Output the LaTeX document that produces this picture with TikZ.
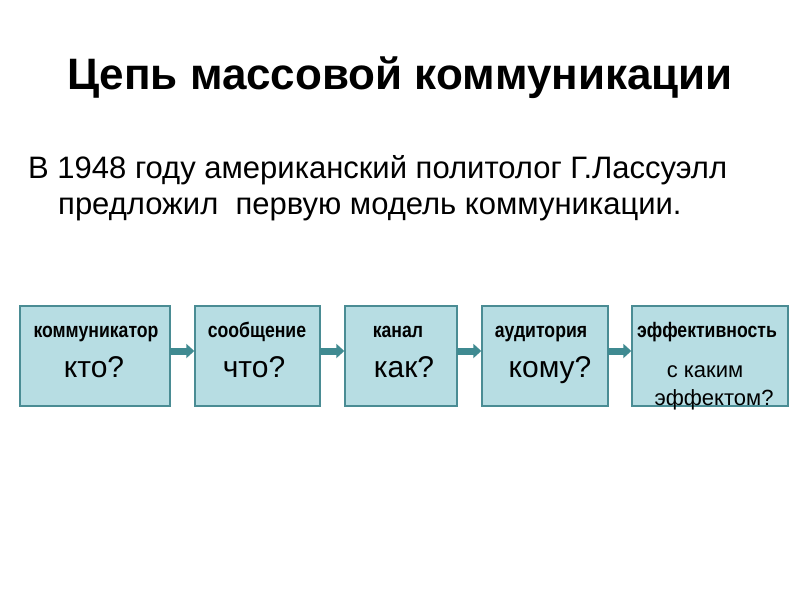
\documentclass[tikz,border=0pt]{standalone}
\usepackage{fontspec}
\setmainfont{Liberation Sans}
\usetikzlibrary{arrows.meta}
\definecolor{boxfill}{HTML}{B7DDE3}
\definecolor{boxline}{HTML}{4A8C94}
\definecolor{arr}{HTML}{3F8A91}
\tikzset{
  stage/.style={draw=boxline, line width=1.5pt, fill=boxfill, inner sep=0pt},
  lbl/.style={font=\fontsize{21}{24}\selectfont\bfseries, inner sep=0pt, xscale=0.84, anchor=base},
  q/.style={font=\fontsize{30}{34}\selectfont, inner sep=0pt, anchor=base},
  small/.style={font=\fontsize{22}{26}\selectfont, inner sep=0pt, anchor=base},
  flow/.style={draw=arr, line width=7pt, -{Triangle[length=8pt,width=14pt]}, shorten >=0.5pt}
}
\begin{document}
\begin{tikzpicture}[x=1pt,y=-1pt]
\useasboundingbox (0,0) rectangle (800,600);
\node[font=\fontsize{44}{50}\selectfont\bfseries, inner sep=0pt] (title) at (400,78) {Цепь массовой коммуникации};
\node[font=\fontsize{31}{36}\selectfont, anchor=base west, inner sep=0pt] (l1) at (28,178) {В 1948 году американский политолог Г.Лассуэлл};
\node[font=\fontsize{31}{36}\selectfont, anchor=base west, inner sep=0pt] (l2) at (58,214) {предложил\ \ первую модель коммуникации.};

\path[stage] (20,306) rectangle (170,406);
\node (b1) at (95,356) [minimum width=150pt, minimum height=100pt, inner sep=0pt] {};
\path[stage] (195,306) rectangle (320,406);
\node (b2) at (257.5,356) [minimum width=125pt, minimum height=100pt, inner sep=0pt] {};
\path[stage] (345,306) rectangle (457,406);
\node (b3) at (401,356) [minimum width=112pt, minimum height=100pt, inner sep=0pt] {};
\path[stage] (482,306) rectangle (608,406);
\node (b4) at (545,356) [minimum width=126pt, minimum height=100pt, inner sep=0pt] {};
\path[stage] (632,306) rectangle (788,406);
\node (b5) at (710,356) [minimum width=156pt, minimum height=100pt, inner sep=0pt] {};

\node[lbl] (t1) at (96,337) {коммуникатор};
\node[lbl] (t2) at (257,337) {сообщение};
\node[lbl] (t3) at (398,337) {канал};
\node[lbl] (t4) at (541,337) {аудитория};
\node[lbl] (t5) at (707,337) {эффективность};

\node[q] (q1) at (94,377) {кто?};
\node[q] (q2) at (254,377) {что?};
\node[q] (q3) at (404,377) {как?};
\node[q] (q4) at (550,377) {кому?};
\node[small] (q5a) at (705,377) {с каким};
\node[small] (q5b) at (714,405) {эффектом?};

\draw[flow] (b1.east |- 0,351) -- (b2.west |- 0,351);
\draw[flow] (b2.east |- 0,351) -- (b3.west |- 0,351);
\draw[flow] (b3.east |- 0,351) -- (b4.west |- 0,351);
\draw[flow] (b4.east |- 0,351) -- (b5.west |- 0,351);
\end{tikzpicture}
\end{document}
